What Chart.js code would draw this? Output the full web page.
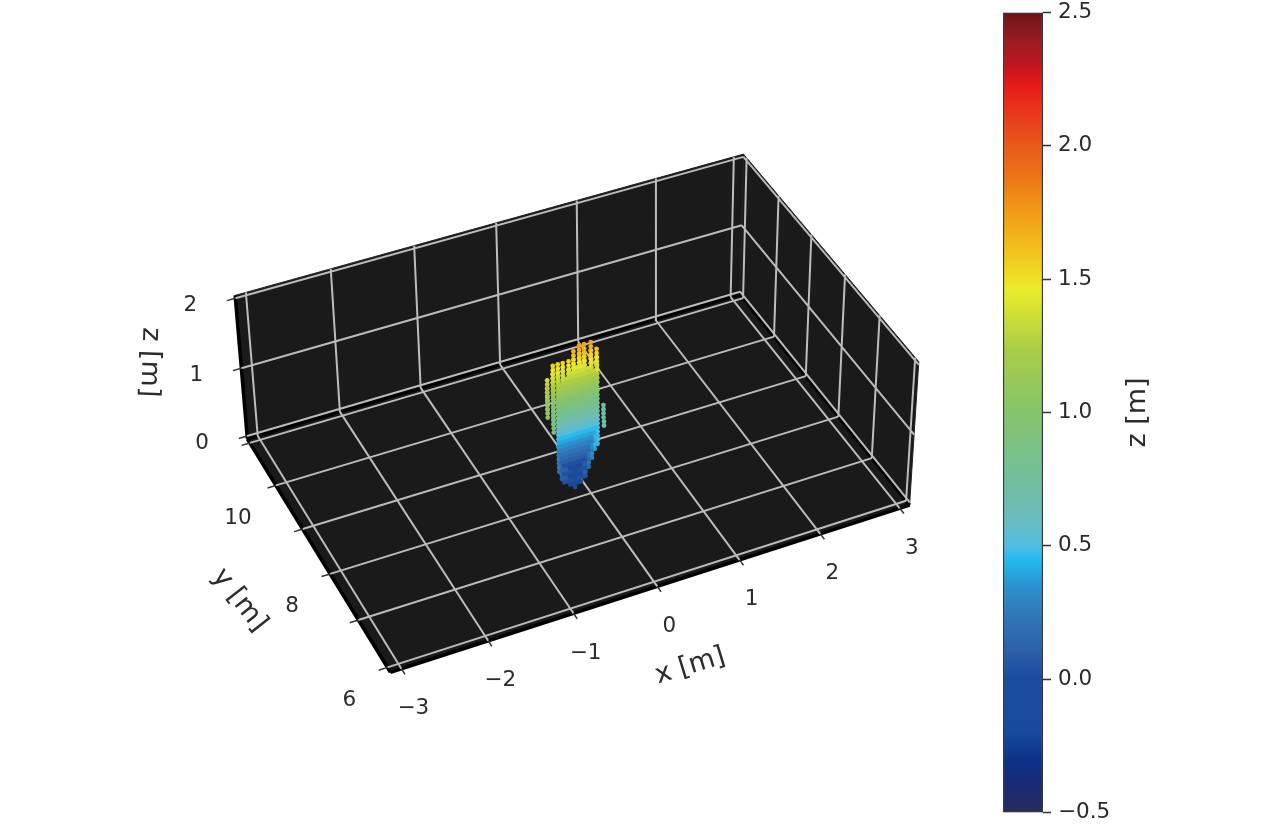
<!DOCTYPE html>
<html>
<head>
<meta charset="utf-8">
<title>3D point cloud</title>
<script src="https://cdn.jsdelivr.net/npm/chart.js@4"></script>
<style>
  html, body { margin: 0; padding: 0; background: #fff; }
  #scene { position: absolute; left: 0; top: 0; }
  #cbar { position: absolute; left: 984px; top: 0; }
</style>
</head>
<body>
<canvas id="scene" width="980" height="826"></canvas>
<canvas id="cbar" width="200" height="826"></canvas>
<script>
// axis ticks
const xTicks = [-3, -2, -1, 0, 1, 2, 3];
const yTicks = [6, 7, 8, 9, 10, 11];
const zTicks = [0, 1, 2];
const yTickLabels = [6, 8, 10];
const xLimits = [-3.125, 3.125];
const yLimits = [5.9, 11.1];
const zLimits = [-0.04, 2.04];

// point cloud: stacks of z per column, repeated on a few depth layers
const columnX = [-0.42, -0.35, -0.29, -0.26, -0.23, -0.195, -0.16, -0.13, -0.10, -0.065, -0.03, 0.0, 0.03, 0.07, 0.11, 0.145, 0.18, 0.26];
const layerX = [0, 0.055, 0.115];
const layerY = [8.26, 8.42, 8.58];
const columnZ = [
  [1.06, 1.12, 1.18, 1.24, 1.30, 1.36],
  [0.82, 0.88, 0.94, 1.00, 1.06, 1.12, 1.18, 1.24, 1.30, 1.36, 1.42, 1.48, 1.54],
  [0.22, 0.28, 0.34, 0.40, 0.46, 0.52, 0.58, 0.64, 0.70, 0.76, 0.82, 0.88, 0.94, 1.00, 1.06, 1.12, 1.18, 1.24, 1.30, 1.36, 1.42, 1.48, 1.54],
  [0.10, 0.16, 0.22, 0.28, 0.34, 0.40, 0.46, 0.52, 0.58, 0.64, 0.70, 0.76, 0.82, 0.88, 0.94, 1.00, 1.06, 1.12, 1.18, 1.24],
  [0.04, 0.10, 0.16, 0.22, 0.28, 0.34, 0.40, 0.46, 0.52, 0.58, 0.64, 0.70, 0.76, 0.82, 0.88, 0.94, 1.00, 1.06, 1.12, 1.18, 1.24, 1.30, 1.36, 1.42, 1.48, 1.54],
  [0.04, 0.10, 0.16, 0.22, 0.28, 0.34, 0.40, 0.46, 0.52, 0.58, 0.64, 0.70, 0.76, 0.82, 0.88, 0.94, 1.00, 1.06, 1.12, 1.18, 1.24, 1.30],
  [-0.02, 0.04, 0.10, 0.16, 0.22, 0.28, 0.34, 0.40, 0.46, 0.52, 0.58, 0.64, 0.70, 0.76, 0.82, 0.88, 0.94, 1.00, 1.06, 1.12, 1.18, 1.24, 1.30, 1.36, 1.42, 1.48, 1.54],
  [-0.02, 0.04, 0.10, 0.16, 0.22, 0.28, 0.34, 0.40, 0.46, 0.52, 0.58, 0.64, 0.70, 0.76, 0.82, 0.88, 0.94, 1.00, 1.06, 1.12, 1.18, 1.24, 1.30, 1.36],
  [-0.08, -0.02, 0.04, 0.10, 0.16, 0.22, 0.28, 0.34, 0.40, 0.46, 0.52, 0.58, 0.64, 0.70, 0.76, 0.82, 0.88, 0.94, 1.00, 1.06, 1.12, 1.18, 1.24, 1.30, 1.36, 1.42, 1.48, 1.54, 1.60, 1.66],
  [-0.02, 0.04, 0.10, 0.16, 0.22, 0.28, 0.34, 0.40, 0.46, 0.52, 0.58, 0.64, 0.70, 0.76, 0.82, 0.88, 0.94, 1.00, 1.06, 1.12, 1.18, 1.24, 1.30, 1.36, 1.42],
  [-0.02, 0.04, 0.10, 0.16, 0.22, 0.28, 0.34, 0.40, 0.46, 0.52, 0.58, 0.64, 0.70, 0.76, 0.82, 0.88, 0.94, 1.00, 1.06, 1.12, 1.18, 1.24, 1.30, 1.36, 1.42, 1.48, 1.54, 1.60, 1.66, 1.72],
  [0.04, 0.10, 0.16, 0.22, 0.28, 0.34, 0.40, 0.46, 0.52, 0.58, 0.64, 0.70, 0.76, 0.82, 0.88, 0.94, 1.00, 1.06, 1.12, 1.18, 1.24, 1.30, 1.36, 1.42],
  [0.04, 0.10, 0.16, 0.22, 0.28, 0.34, 0.40, 0.46, 0.52, 0.58, 0.64, 0.70, 0.76, 0.82, 0.88, 0.94, 1.00, 1.06, 1.12, 1.18, 1.24, 1.30, 1.36, 1.42, 1.48, 1.54, 1.60, 1.66, 1.72],
  [0.16, 0.22, 0.28, 0.34, 0.40, 0.46, 0.52, 0.58, 0.64, 0.70, 0.76, 0.82, 0.88, 0.94, 1.00, 1.06, 1.12, 1.18, 1.24, 1.30, 1.36],
  [0.28, 0.34, 0.40, 0.46, 0.52, 0.58, 0.64, 0.70, 0.76, 0.82, 0.88, 0.94, 1.00, 1.06, 1.12, 1.18, 1.24, 1.30, 1.36, 1.42, 1.48, 1.54, 1.60, 1.66, 1.72],
  [0.40, 0.46, 0.52, 0.58, 0.64, 0.70, 0.76, 0.82, 0.88, 0.94, 1.00, 1.06, 1.12, 1.18, 1.24, 1.30],
  [0.46, 0.52, 0.58, 0.64, 0.70, 0.76, 0.82, 0.88, 0.94, 1.00, 1.06, 1.12, 1.18, 1.24, 1.36, 1.42, 1.48, 1.54, 1.60],
  [0.70, 0.76]
];

// colormap
const cmapZ = [-0.5, -0.38, -0.3, -0.2, 0.0, 0.1, 0.25, 0.35, 0.45, 0.5, 0.6, 0.75, 1.0, 1.23, 1.46, 1.6, 1.75, 1.9, 2.0, 2.15, 2.22, 2.3, 2.4, 2.5];
const cmapColors = ['#232d5c', '#182a78', '#0d3288', '#174a9e', '#1b4a9b', '#2a5fa8', '#3179b8', '#2a93d0', '#25b9ee', '#4fbde0', '#6cbcc0', '#72bf9c', '#86c36c', '#a9cc48', '#eaec2b', '#f3c31c', '#f19c17', '#ec7018', '#e95a1c', '#e9301b', '#e61c17', '#c0161f', '#971c22', '#6d1417'];

// where the pane corners landed in the reference, used to solve the camera
const cameraAnchors = [
  [xLimits[0], yLimits[0], zLimits[0], 390, 675],
  [xLimits[1], yLimits[0], zLimits[0], 912, 507],
  [xLimits[1], yLimits[1], zLimits[0], 743, 293],
  [xLimits[0], yLimits[1], zLimits[0], 245, 438],
  [xLimits[0], yLimits[1], zLimits[1], 233, 295],
  [xLimits[1], yLimits[1], zLimits[1], 745, 152],
  [xLimits[1], yLimits[0], zLimits[1], 923, 360]
];

const FONT = '21.5px "DejaVu Sans"';
const TITLE_FONT = '27px "DejaVu Sans"';
const TEXT = '#2b2b2b';

function solveCamera(anchors) {
  const rows = [], rhs = [];
  anchors.forEach(([X, Y, Z, u0, v0]) => {
    const u = u0 / 1000, v = v0 / 1000;
    rows.push([X, Y, Z, 1, 0, 0, 0, 0, -u * X, -u * Y, -u * Z]); rhs.push(u);
    rows.push([0, 0, 0, 0, X, Y, Z, 1, -v * X, -v * Y, -v * Z]); rhs.push(v);
  });
  const n = 11;
  const A = [];
  for (let i = 0; i < n; i++) {
    A.push(new Array(n + 1).fill(0));
    for (let j = 0; j < n; j++) rows.forEach(r => { A[i][j] += r[i] * r[j]; });
    rows.forEach((r, k) => { A[i][n] += r[i] * rhs[k]; });
  }
  for (let c = 0; c < n; c++) {
    let best = c;
    for (let r = c + 1; r < n; r++) if (Math.abs(A[r][c]) > Math.abs(A[best][c])) best = r;
    [A[c], A[best]] = [A[best], A[c]];
    for (let r = 0; r < n; r++) {
      if (r === c) continue;
      const f = A[r][c] / A[c][c];
      for (let j = c; j <= n; j++) A[r][j] -= f * A[c][j];
    }
  }
  return A.map((row, i) => row[n] / row[i]);
}

const cam = solveCamera(cameraAnchors);

function project(X, Y, Z) {
  const w = cam[8] * X + cam[9] * Y + cam[10] * Z + 1;
  return {
    x: 1000 * (cam[0] * X + cam[1] * Y + cam[2] * Z + cam[3]) / w,
    y: 1000 * (cam[4] * X + cam[5] * Y + cam[6] * Z + cam[7]) / w
  };
}

function hexToRgb(h) {
  return [parseInt(h.slice(1, 3), 16), parseInt(h.slice(3, 5), 16), parseInt(h.slice(5, 7), 16)];
}

function colorFor(z) {
  let i = 0;
  while (i < cmapZ.length - 2 && z > cmapZ[i + 1]) i++;
  const t = Math.min(1, Math.max(0, (z - cmapZ[i]) / (cmapZ[i + 1] - cmapZ[i])));
  const a = hexToRgb(cmapColors[i]), b = hexToRgb(cmapColors[i + 1]);
  return `rgb(${a.map((v, k) => Math.round(v + (b[k] - v) * t)).join(',')})`;
}

// line pieces in 3D -> one dataset with gaps
function segments(list) {
  const out = [];
  list.forEach(([p, q]) => {
    out.push(project(...p), project(...q), { x: null, y: null });
  });
  return out;
}

const [xa, xb] = xLimits, [ya, yb] = yLimits, [za, zb] = zLimits;

const gridPieces = [];
xTicks.forEach(x => {
  gridPieces.push([[x, ya, za], [x, yb, za]]);
  gridPieces.push([[x, yb, za], [x, yb, zb]]);
});
yTicks.forEach(y => {
  gridPieces.push([[xa, y, za], [xb, y, za]]);
  gridPieces.push([[xb, y, za], [xb, y, zb]]);
});
zTicks.forEach(z => {
  gridPieces.push([[xa, yb, z], [xb, yb, z]]);
  gridPieces.push([[xb, yb, z], [xb, ya, z]]);
});

const tickPieces = [];
xTicks.forEach(x => tickPieces.push([[x, ya, za], [x, ya - 0.12, za]]));
yTicks.forEach(y => tickPieces.push([[xa, y, za], [xa - 0.1, y, za]]));
zTicks.forEach(z => tickPieces.push([[xa, yb, z], [xa - 0.1, yb, z]]));

// heavy edges round the floor and the z axis
const edgePieces = [
  [[xa, ya, za], [xb, ya, za]],
  [[xa, ya, za], [xa, yb, za]],
  [[xa, yb, za], [xb, yb, za]],
  [[xb, ya, za], [xb, yb, za]],
  [[xa, yb, za], [xa, yb, zb]]
];

// near layer first, far layer painted over it
const cloud = [];
layerY.forEach((ly, l) => {
  columnZ.forEach((stack, i) => {
    stack.forEach(z => {
      const p = project(columnX[i] + layerX[l], ly, z);
      cloud.push({ x: p.x, y: p.y, z: z });
    });
  });
});

function pane(corners) {
  return {
    data: corners.concat([corners[0]]).map(c => project(...c)),
    showLine: true, fill: 'shape', backgroundColor: '#1a1a1a',
    borderColor: '#222', borderWidth: 1, pointRadius: 0, tension: 0
  };
}

const sceneLabels = {
  id: 'sceneLabels',
  afterDraw(chart) {
    const ctx = chart.ctx;
    const sx = chart.scales.x, sy = chart.scales.y;
    const put = (text, p, dx, dy, rot, font) => {
      ctx.save();
      ctx.translate(sx.getPixelForValue(p.x) + dx, sy.getPixelForValue(p.y) + dy);
      if (rot) ctx.rotate(rot * Math.PI / 180);
      ctx.font = font || FONT; ctx.fillStyle = TEXT;
      ctx.textAlign = 'center'; ctx.textBaseline = 'middle';
      ctx.fillText(text, 0, 0);
      ctx.restore();
    };
    xTicks.forEach(x => put(String(x).replace('-', '\u2212'), project(x, ya, za), 12, 40));
    yTickLabels.forEach(y => put(String(y), project(xa, y, za), -38, 33));
    zTicks.forEach(z => put(String(z), project(xa, yb, z), -45, 7));
    put('x [m]', project(0, ya, za), 33, 80, -17, TITLE_FONT);
    put('y [m]', project(xa, 8.5, za), -77, 49, 52, TITLE_FONT);
    put('z [m]', project(xa, yb, 1), -92, -6, 92, TITLE_FONT);
  }
};

new Chart(document.getElementById('scene'), {
  type: 'scatter',
  data: {
    datasets: [
      {
        data: cloud, pointRadius: 2.4, pointBorderWidth: 0,
        pointBackgroundColor: c => colorFor(c.raw ? c.raw.z : 0), showLine: false
      },
      {
        data: segments(tickPieces), showLine: true, spanGaps: false, pointRadius: 0,
        borderColor: '#333', borderWidth: 1.5
      },
      {
        data: segments(gridPieces), showLine: true, spanGaps: false, pointRadius: 0,
        borderColor: '#bcbcbc', borderWidth: 2
      },
      {
        data: segments(edgePieces), showLine: true, spanGaps: false, pointRadius: 0,
        borderColor: '#000', borderWidth: 3.5
      },
      pane([[xa, ya, za], [xb, ya, za], [xb, yb, za], [xa, yb, za]]),
      pane([[xa, yb, za], [xb, yb, za], [xb, yb, zb], [xa, yb, zb]]),
      pane([[xb, ya, za], [xb, yb, za], [xb, yb, zb], [xb, ya, zb]])
    ]
  },
  options: {
    responsive: false, animation: false, events: [],
    layout: { padding: 0 },
    plugins: { legend: { display: false }, tooltip: { enabled: false } },
    scales: {
      x: { type: 'linear', min: 0, max: 980, display: false },
      y: { type: 'linear', min: 0, max: 826, reverse: true, display: false }
    }
  },
  plugins: [sceneLabels]
});

// colorbar
const cbarLabel = {
  id: 'cbarLabel',
  afterDraw(chart) {
    const ctx = chart.ctx;
    ctx.save();
    ctx.translate(1138 - 984, chart.scales.y.getPixelForValue(1.0));
    ctx.rotate(-Math.PI / 2);
    ctx.font = TITLE_FONT; ctx.fillStyle = TEXT;
    ctx.textAlign = 'center'; ctx.textBaseline = 'middle';
    ctx.fillText('z [m]', 0, 0);
    ctx.restore();
  }
};

function cbarGradient(c) {
  const chart = c.chart;
  if (!chart.chartArea) return cmapColors[0];
  const s = chart.scales.y;
  const g = chart.ctx.createLinearGradient(0, s.getPixelForValue(-0.5), 0, s.getPixelForValue(2.5));
  cmapZ.forEach((z, i) => g.addColorStop((z + 0.5) / 3, cmapColors[i]));
  return g;
}

new Chart(document.getElementById('cbar'), {
  type: 'bar',
  data: {
    labels: ['z'],
    datasets: [{
      data: [[-0.5, 2.5]], backgroundColor: cbarGradient, borderColor: '#33373f', borderWidth: 1.5,
      borderSkipped: false, barPercentage: 1, categoryPercentage: 1
    }]
  },
  options: {
    responsive: false, animation: false, events: [],
    layout: { padding: { left: 19, right: 61, top: 12.5, bottom: 13.5 } },
    plugins: { legend: { display: false }, tooltip: { enabled: false } },
    scales: {
      x: { display: false },
      y: {
        position: 'right', min: -0.5, max: 2.5,
        afterFit: s => { s.width = 80; s.paddingTop = 0; s.paddingBottom = 0; },
        border: { display: false },
        grid: { drawOnChartArea: false, drawTicks: true, tickLength: 8, tickColor: '#333', tickWidth: 1.5 },
        ticks: {
          stepSize: 0.5, padding: 7, color: TEXT, font: { family: 'DejaVu Sans', size: 21.5 },
          callback: v => v.toFixed(1).replace('-', '\u2212')
        }
      }
    }
  },
  plugins: [cbarLabel]
});
</script>
</body>
</html>
